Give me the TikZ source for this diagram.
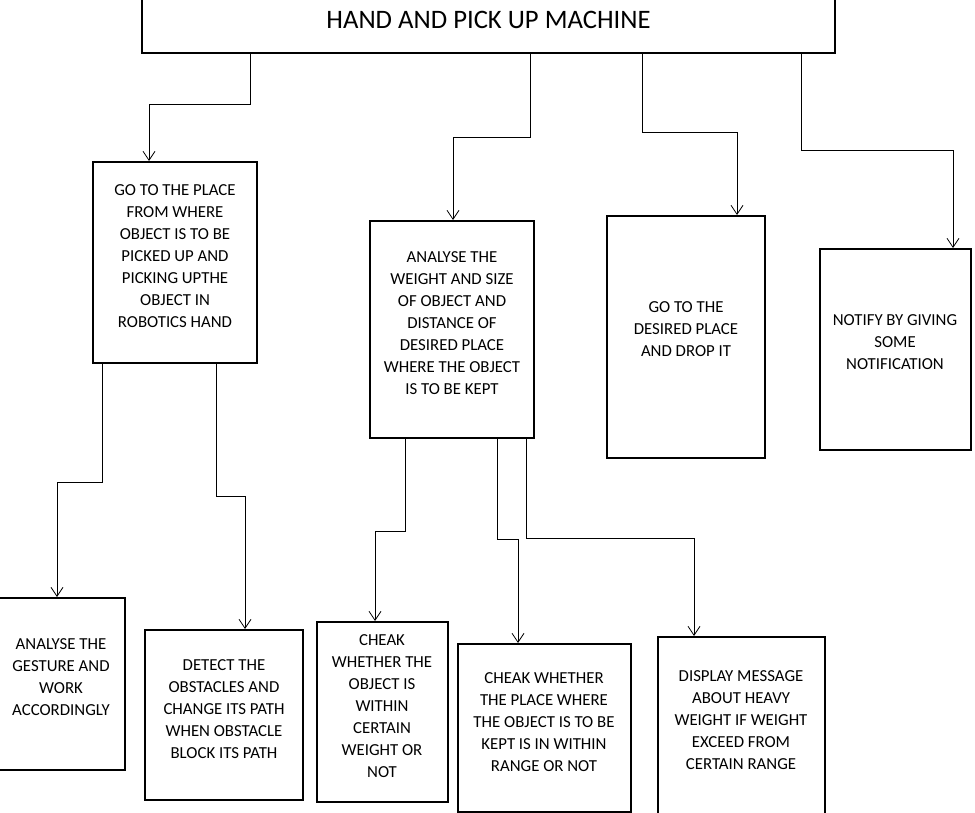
\documentclass[tikz,border=0pt]{standalone}
\usepackage{fontspec}
\setmainfont{Carlito}
\usetikzlibrary{arrows.meta}
\begin{document}
\begin{tikzpicture}[x=0.75pt,y=-0.75pt,
  box/.style={draw,line width=1.5pt,inner sep=0pt},
  txt/.style={align=center,inner sep=0pt,font=\fontsize{12.6}{16.5}\selectfont},
  arr/.style={line width=0.75pt,-{Straight Barb[length=6.75pt,width=9pt,line width=0.6pt]}}]
\useasboundingbox (0,0) rectangle (975,813);
% boxes
\node[box,minimum width=519.75pt,minimum height=54.75pt] (title) at (488.5,16.5) {};
\node[inner sep=0pt,font=\fontsize{20}{24}\selectfont] (tt) at (488.5,19.5) {HAND AND PICK UP MACHINE};
\node[box,minimum width=123pt,minimum height=150.75pt] (b1) at (175,262.5) {};
\node[box,minimum width=123pt,minimum height=162.75pt] (b2) at (452,329.5) {};
\node[box,minimum width=118.5pt,minimum height=181.5pt] (b3) at (686,337) {};
\node[box,minimum width=113.25pt,minimum height=150.75pt] (b4) at (895.5,349.5) {};
\node[box,minimum width=97.5pt,minimum height=129pt] (c1) at (60,684) {};
\node[box,minimum width=118.5pt,minimum height=127.5pt] (c2) at (224,715) {};
\node[box,minimum width=98.25pt,minimum height=135pt] (c3) at (382.5,712) {};
\node[box,minimum width=129.75pt,minimum height=126pt] (c4) at (544.5,728) {};
\node[box,minimum width=125.25pt,minimum height=144.75pt] (c5) at (741.5,733.5) {};
% texts
\node[txt] (tb1) at (175,256) {GO TO THE PLACE\\FROM WHERE\\OBJECT IS TO BE\\PICKED UP AND\\PICKING UPTHE\\OBJECT IN\\ROBOTICS HAND};
\node[txt] (tb2) at (452,323) {ANALYSE THE\\WEIGHT AND SIZE\\OF OBJECT AND\\DISTANCE OF\\DESIRED PLACE\\WHERE THE OBJECT\\IS TO BE KEPT};
\node[txt] (tb3) at (686,329.5) {GO TO THE\\DESIRED PLACE\\AND DROP IT};
\node[txt] (tb4) at (895,342.5) {NOTIFY BY GIVING\\SOME\\NOTIFICATION};
\node[txt] (tc1) at (61,677.5) {ANALYSE THE\\GESTURE AND\\WORK\\ACCORDINGLY};
\node[txt] (tc2) at (224,709.5) {DETECT THE\\OBSTACLES AND\\CHANGE ITS PATH\\WHEN OBSTACLE\\BLOCK ITS PATH};
\node[txt] (tc3) at (382,706.5) {CHEAK\\WHETHER THE\\OBJECT IS\\WITHIN\\CERTAIN\\WEIGHT OR\\NOT};
\node[txt] (tc4) at (544,722.5) {CHEAK WHETHER\\THE PLACE WHERE\\THE OBJECT IS TO BE\\KEPT IS IN WITHIN\\RANGE OR NOT};
\node[txt] (tc5) at (741,720) {DISPLAY MESSAGE\\ABOUT HEAVY\\WEIGHT IF WEIGHT\\EXCEED FROM\\CERTAIN RANGE};
% bend points
\coordinate (k1a) at (250,105); \coordinate (k1b) at (149,105);
\coordinate (k2a) at (530,138); \coordinate (k2b) at (453,138);
\coordinate (k3a) at (642,133); \coordinate (k3b) at (737,133);
\coordinate (k4a) at (801,151); \coordinate (k4b) at (953,151);
\coordinate (k5a) at (102,482); \coordinate (k5b) at (57,482);
\coordinate (k6a) at (216,496); \coordinate (k6b) at (245,496);
\coordinate (k7a) at (405,531); \coordinate (k7b) at (375,531);
\coordinate (k8a) at (497,539); \coordinate (k8b) at (518,539);
\coordinate (k9a) at (526,538); \coordinate (k9b) at (694,538);
% connectors
\draw[arr] (title.south -| k1a) -- (k1a) -- (k1b) -- (k1b |- b1.north);
\draw[arr] (title.south -| k2a) -- (k2a) -- (k2b) -- (k2b |- b2.north);
\draw[arr] (title.south -| k3a) -- (k3a) -- (k3b) -- (k3b |- b3.north);
\draw[arr] (title.south -| k4a) -- (k4a) -- (k4b) -- (k4b |- b4.north);
\draw[arr] (b1.south -| k5a) -- (k5a) -- (k5b) -- (k5b |- c1.north);
\draw[arr] (b1.south -| k6a) -- (k6a) -- (k6b) -- (k6b |- c2.north);
\draw[arr] (b2.south -| k7a) -- (k7a) -- (k7b) -- (k7b |- c3.north);
\draw[arr] (b2.south -| k8a) -- (k8a) -- (k8b) -- (k8b |- c4.north);
\draw[arr] (b2.south -| k9a) -- (k9a) -- (k9b) -- (k9b |- c5.north);
\end{tikzpicture}
\end{document}
